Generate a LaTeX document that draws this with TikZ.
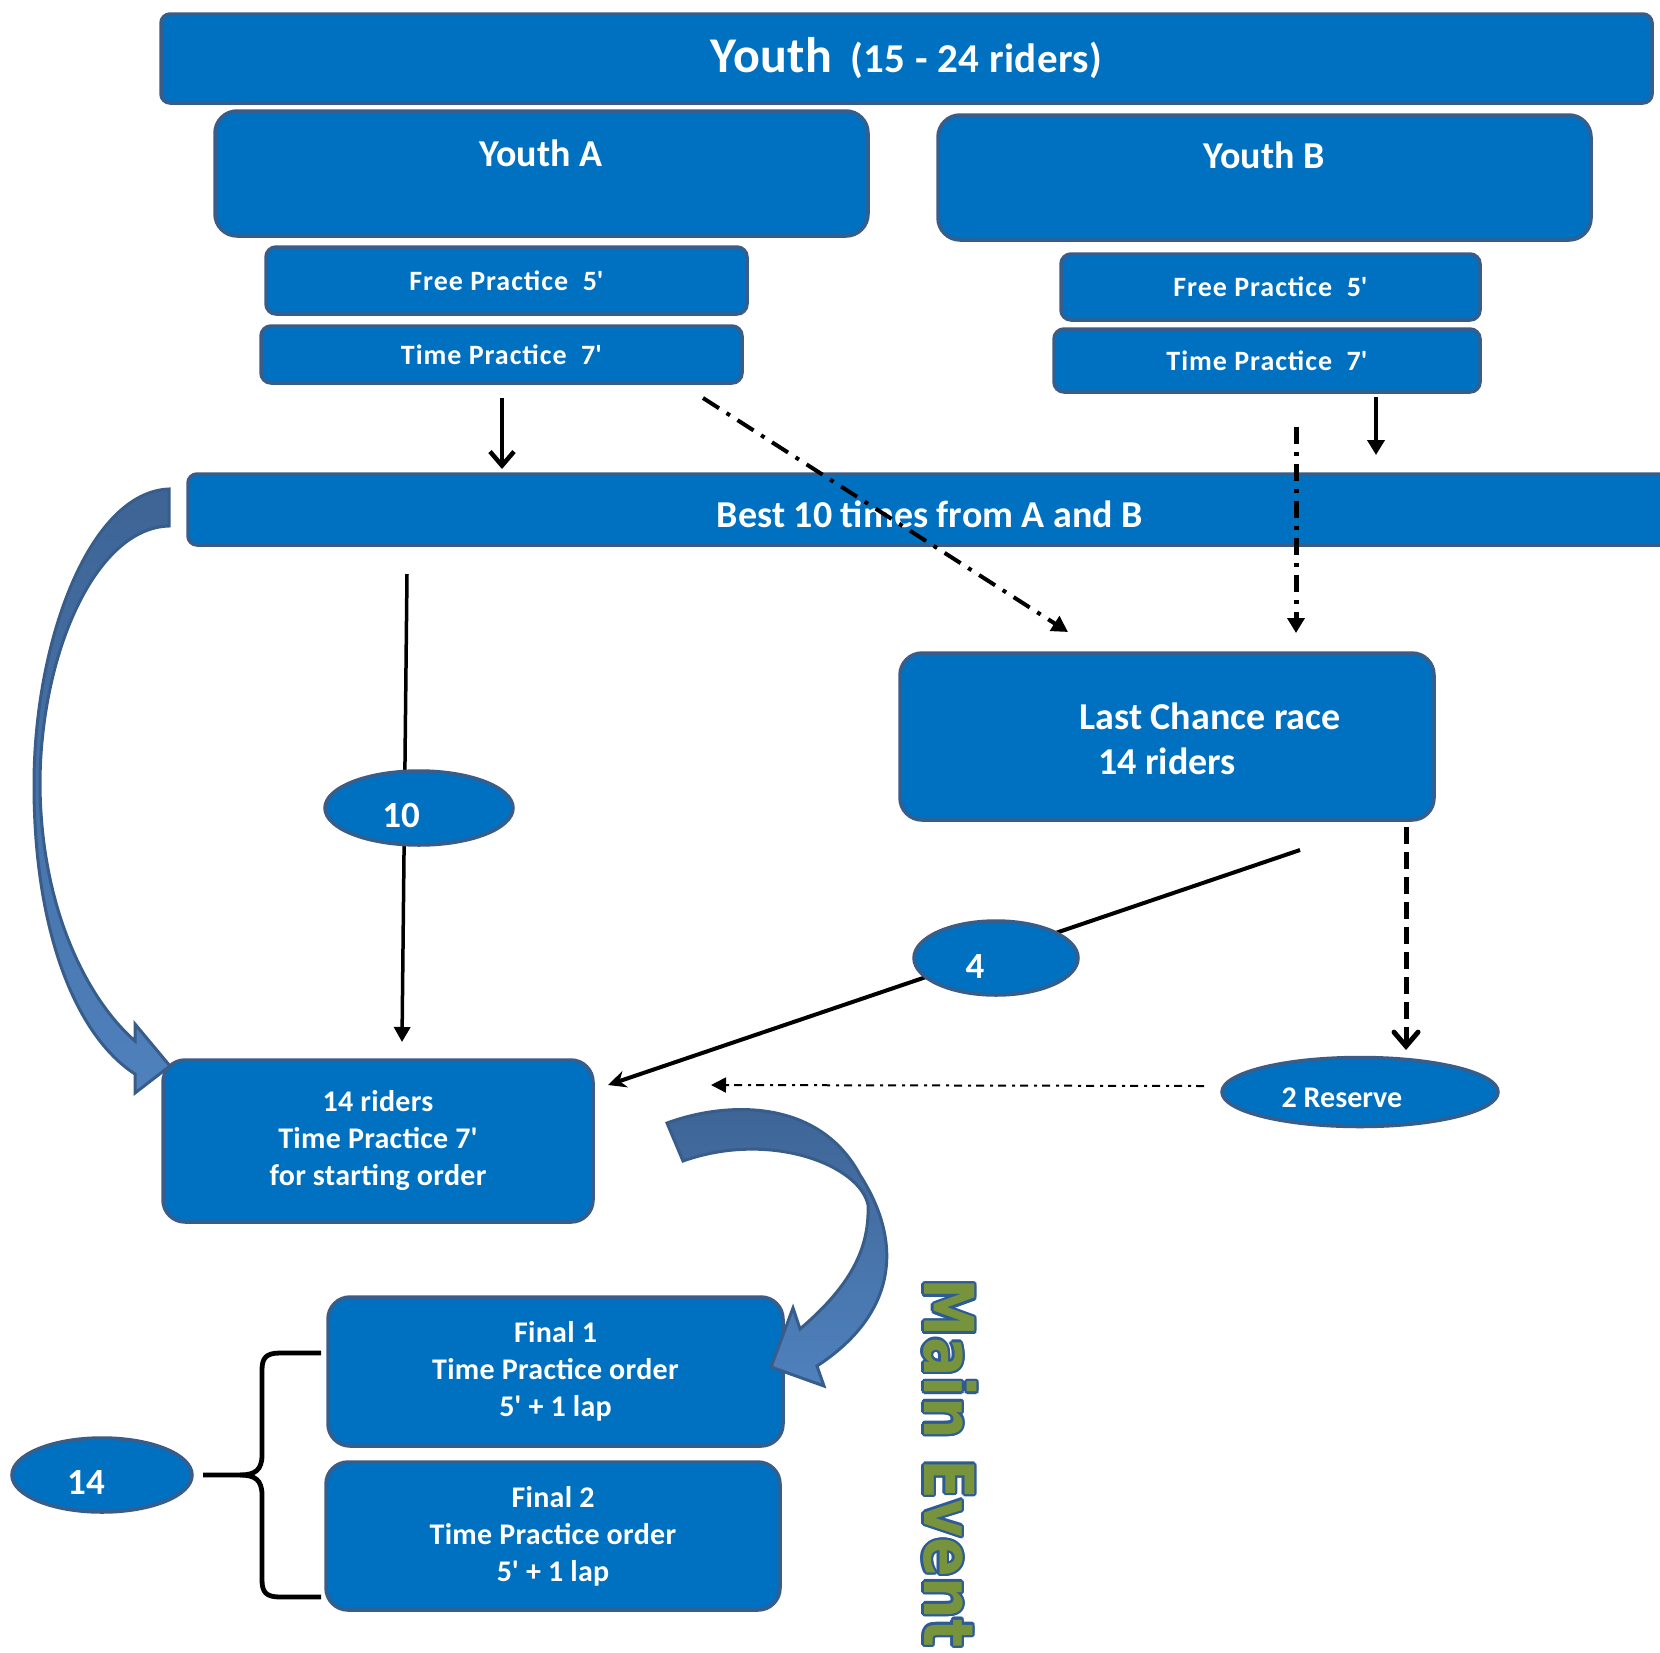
\documentclass[tikz,border=0pt]{standalone}
\usepackage{fontspec}
\setmainfont{Carlito}
\newfontfamily\mefont{DejaVu Sans}
\usetikzlibrary{arrows.meta,shapes.geometric,calc}
\definecolor{boxfill}{HTML}{0070C0}
\definecolor{boxline}{HTML}{385D8A}
\definecolor{arrdark}{HTML}{3E6495}
\definecolor{arrlight}{HTML}{4F81BD}
\definecolor{megreen}{HTML}{77933C}
\definecolor{meblue}{HTML}{2E5B94}
\begin{document}
\begin{tikzpicture}[x=1pt,y=-1pt,
  box/.style={draw=boxline, fill=boxfill, line width=3.5pt, rounded corners=22pt, inner sep=0pt, text=white, font=\bfseries\fontsize{30}{37}\selectfont\addfontfeatures{LetterSpace=1}, align=center},
  bar/.style={box, rounded corners=9pt},
  pbox/.style={box, rounded corners=10pt, font=\bfseries\fontsize{28}{32}\selectfont\addfontfeatures{LetterSpace=3.5}},
  oval/.style={ellipse, draw=boxline, fill=boxfill, line width=3.5pt, inner sep=0pt},
  wtxt/.style={text=white, inner sep=0pt, font=\bfseries\fontsize{#1}{#1}\selectfont},
  wtxt/.default=36,
  conn/.style={line width=4pt, black},
  bigarrow/.style={draw=boxline, line width=3pt, top color=arrdark, bottom color=arrlight},
  brace/.style={line width=4.8pt, black},
  metext/.style={rotate=-90, inner sep=0pt, font=\mefont\bfseries\fontsize{69}{69}\selectfont}
]
\clip (0,0) rectangle (1660,1652);
\fill[white] (0,0) rectangle (1660,1652);

% boxes
\node[bar, minimum width=1491pt, minimum height=89pt] (youth) at (906.5,58.5)
  {{\fontsize{50}{54}\selectfont Youth}\hspace{18pt}{\fontsize{41}{44}\selectfont (15 - 24 riders)}};
\node[box, minimum width=653pt, minimum height=125pt] (ya) at (541.5,173.5) {};
\node[wtxt=38] (yat) at (541,153) {Youth A};
\node[box, minimum width=653pt, minimum height=125pt] (yb) at (1264.5,177.5) {};
\node[wtxt=38] (ybt) at (1264,155) {Youth B};
\node[pbox, minimum width=481pt, minimum height=67pt] (fpa) at (506.5,280.5) {Free Practice\ \ 5\textquotesingle};
\node[pbox, minimum width=481pt, minimum height=57pt] (tpa) at (501.5,354.5) {Time Practice\ \ 7\textquotesingle};
\node[pbox, minimum width=419pt, minimum height=66pt] (fpb) at (1270.5,287) {Free Practice\ \ 5\textquotesingle};
\node[pbox, minimum width=426pt, minimum height=63pt] (tpb) at (1267,360.5) {Time Practice\ \ 7\textquotesingle};
\node[bar, font=\bfseries\fontsize{38}{42}\selectfont, minimum width=1484pt, minimum height=71pt, text height=35pt, text depth=0pt] (best) at (930,509.5) {Best 10 times from A and B};
\node[box, minimum width=534pt, minimum height=167pt] (lc) at (1167,736.5) {};
\node[wtxt=38] (lct1) at (1210,716) {Last Chance race};
\node[wtxt=38] (lct2) at (1167,761) {14 riders};
\node[box, minimum width=430pt, minimum height=162pt] (tp14) at (378,1141) {14 riders\\Time Practice 7\textquotesingle\\for starting order};
\node[box, minimum width=455pt, minimum height=149pt] (f1) at (555.5,1371.5) {Final 1\\Time Practice order\\5\textquotesingle\ + 1 lap};
\node[box, minimum width=454pt, minimum height=148pt] (f2) at (553,1536) {Final 2\\Time Practice order\\5\textquotesingle\ + 1 lap};

% connector end points
\coordinate (c1s) at (502,398); \coordinate (c1e) at (502,469);
\coordinate (c2s) at (1376,397); \coordinate (c2e) at (1376,455);
\coordinate (c3s) at (703,398); \coordinate (c3e) at (1068,632);
\coordinate (c4s) at (1296,427); \coordinate (c4e) at (1296,633);
\coordinate (c5s) at (407,574); \coordinate (c5e) at (402,1042);
\coordinate (c6s) at (1300,850); \coordinate (c6e) at (608,1085);
\coordinate (c7s) at (1406,827); \coordinate (c7e) at (1406,1050);
\coordinate (c8s) at (1204,1086); \coordinate (c8e) at (711,1085);

\draw[conn, line width=4.5pt, -{Straight Barb[length=14pt,width=24pt]}] (c1s) -- (c1e);
\draw[conn, line width=4.5pt, -{Triangle[length=15pt,width=17pt]}] (c2s) -- (c2e);
\draw[conn, dash pattern=on 19pt off 9pt on 4pt off 9pt, -{Triangle[length=16pt,width=17pt]}] (c3s) -- (c3e);
\draw[conn, line width=5pt, dash pattern=on 17pt off 8pt on 4pt off 8pt, -{Triangle[length=15pt,width=17pt]}] (c4s) -- (c4e);
\draw[conn, line width=3.5pt, -{Triangle[length=15pt,width=16pt]}] (c5s) -- (c5e);
\draw[conn, -{Stealth[length=18pt,width=17pt]}] (c6s) -- (c6e);
\draw[conn, line width=5pt, dash pattern=on 17pt off 8pt, -{Straight Barb[length=14pt,width=24pt,line cap=round]}] (c7s) -- (c7e);
\draw[conn, line width=2pt, dash pattern=on 8pt off 5pt on 3pt off 6pt, -{Triangle[length=15pt,width=15pt]}] (c8s) -- (c8e);

% ovals
\node[oval, minimum width=188pt, minimum height=74pt] (e10) at (419,808) {};
\node[wtxt=37] (e10t) at (401,815) {10};
\node[oval, minimum width=164pt, minimum height=74pt] (e4) at (996,958) {};
\node[wtxt=37] (e4t) at (975,966) {4};
\node[oval, minimum width=276pt, minimum height=69pt] (eres) at (1360,1092) {};
\node[wtxt=30] (erest) at (1342,1098) {2 Reserve};
\node[oval, minimum width=180pt, minimum height=74pt] (e14) at (102,1475) {};
\node[wtxt=37] (e14t) at (86,1482) {14};

% big curved arrows
\path[bigarrow] (169,489) .. controls (90,492) and (34,640) .. (34,785)
  .. controls (34,930) and (75,1035) .. (135,1074) -- (135,1093) -- (170,1066)
  -- (135,1024) -- (135,1041) .. controls (88,1000) and (41,910) .. (40,785)
  .. controls (40,655) and (95,528) .. (169,526) -- cycle;
\path[bigarrow] (667,1123) .. controls (730,1100) and (820,1100) .. (860,1175)
  .. controls (905,1245) and (895,1315) .. (817,1366) -- (824,1386) -- (771,1367)
  -- (793,1308) -- (800,1329) .. controls (843,1292) and (870,1255) .. (868,1205)
  .. controls (860,1165) and (770,1130) .. (683,1161) -- cycle;

% brace
\draw[brace] (321,1353) -- (280,1353) .. controls (266,1353) and (262,1358) .. (262,1370)
  -- (262,1455) .. controls (262,1470) and (255,1475) .. (240,1475) -- (203,1475);
\draw[brace] (240,1475) .. controls (255,1475) and (262,1480) .. (262,1495)
  -- (262,1580) .. controls (262,1592) and (266,1597) .. (280,1597) -- (321,1597);

% Main Event
\foreach \a in {0,30,...,330}
  \node[metext, text=meblue] (meo\a) at ($(950,1463)+(\a:2.4)$) {\scalebox{0.85}[1]{Main Event}};
\node[metext, text=megreen] (me) at (950,1463) {\scalebox{0.85}[1]{Main Event}};
\end{tikzpicture}
\end{document}
